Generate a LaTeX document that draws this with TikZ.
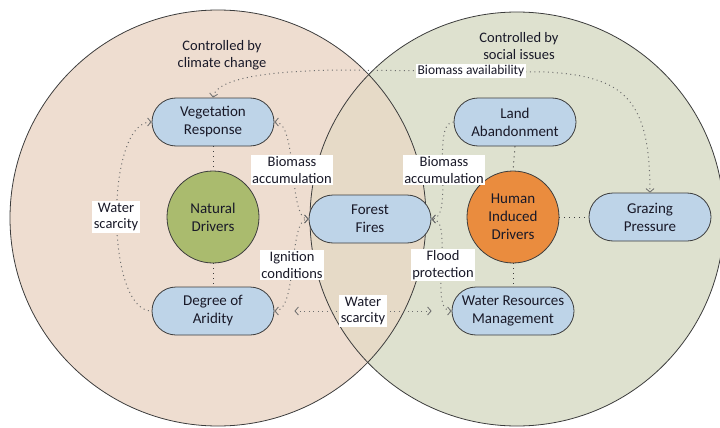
\documentclass[tikz,border=0pt]{standalone}
\usepackage{fontspec}
\setmainfont{Carlito}
\usetikzlibrary{arrows.meta}
\definecolor{leftc}{RGB}{238,221,208}
\definecolor{rightc}{RGB}{222,225,207}
\definecolor{overc}{RGB}{230,218,199}
\definecolor{boxblue}{RGB}{190,212,232}
\definecolor{natgreen}{RGB}{170,187,110}
\definecolor{humorange}{RGB}{234,140,62}
\definecolor{edgec}{RGB}{60,60,60}
\definecolor{txtc}{RGB}{25,25,40}
\definecolor{dotg}{RGB}{110,110,110}
\tikzset{
  stepbox/.style={draw=edgec, line width=0.8pt, fill=boxblue, rounded corners=24pt,
    minimum width=122pt, minimum height=48pt, align=center, text=txtc,
    font=\fontsize{15}{18}\selectfont},
  drv/.style={circle, draw=edgec, line width=0.8pt, minimum size=92pt, align=center,
    text=txtc, font=\fontsize{15}{18}\selectfont},
  lbl/.style={fill=white, inner sep=1.5pt, align=center, text=txtc,
    font=\fontsize{14.5}{16.5}\selectfont},
  ttl/.style={align=center, text=txtc, font=\fontsize{14.5}{16.5}\selectfont},
  gdot/.style={draw=dotg, line width=1pt, dash pattern=on 1pt off 3.5pt,
    arrows={-}, >={Straight Barb[length=3.5pt,width=8pt,line width=0.8pt]}},
  kdot/.style={draw=edgec, line width=1pt, dash pattern=on 1pt off 4pt},
}
\begin{document}
\begin{tikzpicture}[x=1pt,y=-1pt]
\useasboundingbox (0,0) rectangle (720,428);
% circles
\fill[leftc] (218,218) circle (208);
\fill[rightc] (517,219) circle (207);
\begin{scope}
  \clip (218,218) circle (208);
  \fill[overc] (517,219) circle (207);
\end{scope}
\draw[edgec, line width=0.8pt] (218,218) circle (208);
\draw[edgec, line width=0.8pt] (517,219) circle (207);

\node[ttl] (tl) at (222,55) {Controlled by\\climate change};
\node[ttl] (tr) at (519,46) {Controlled by\\social issues};

% nodes
\node[stepbox] (veg) at (213,122) {Vegetation\\Response};
\node[drv, fill=natgreen] (nat) at (213,217) {Natural\\Drivers};
\node[stepbox] (ari) at (213,311) {Degree of\\Aridity};
\node[stepbox] (ff) at (370,219) {Forest\\Fires};
\node[stepbox] (land) at (515,122) {Land\\Abandonment};
\node[drv, fill=humorange] (hum) at (513,217) {Human\\Induced\\Drivers};
\node[stepbox] (grz) at (650,217) {Grazing\\Pressure};
\node[stepbox] (wrm) at (513,311) {Water Resources\\Management};

% short dark connectors
\draw[kdot] (veg.south) -- (nat.north);
\draw[kdot] (nat.south) -- (ari.north);
\draw[kdot] (land.south) -- (hum.north);
\draw[kdot] (hum.south) -- (wrm.north);
\draw[kdot] (hum.east) -- (grz.west);

% top long connector
\coordinate (ta) at (340,70);
\coordinate (tb) at (545,72);
\draw[gdot, <->] (veg.north) .. controls (216,80) and (260,71) .. (ta) -- (tb)
  .. controls (625,76) and (650,100) .. (grz.north);
\node[lbl, font=\fontsize{13.5}{16}\selectfont] (ba) at (471,71) {Biomass availability};

% left side
\draw[gdot, <-] (veg.west) .. controls (105,122) and (105,311) .. (ari.west);
\node[lbl] (ws1) at (116,217) {Water\\scarcity};
\draw[gdot, <->] (veg.east) .. controls (298,122) and (288,219) .. (ff.west);
\node[lbl] (bacc1) at (292,170) {Biomass\\accumulation};
\draw[gdot, <->] (ari.east) .. controls (298,311) and (288,219) .. (ff.west);
\node[lbl] (ign) at (292,265) {Ignition\\conditions};

% right side
\draw[gdot, ->] (land.west) .. controls (430,122) and (455,219) .. (ff.east);
\node[lbl] (bacc2) at (444,170) {Biomass\\accumulation};
\draw[gdot, <->] (wrm.west) .. controls (428,311) and (455,219) .. (ff.east);
\node[lbl] (fld) at (443,265) {Flood\\protection};

% bottom
\draw[gdot, <->, shorten <=20pt, shorten >=20pt] (ari.east) -- (wrm.west);
\node[lbl] (ws2) at (363,311) {Water\\scarcity};
\end{tikzpicture}
\end{document}
